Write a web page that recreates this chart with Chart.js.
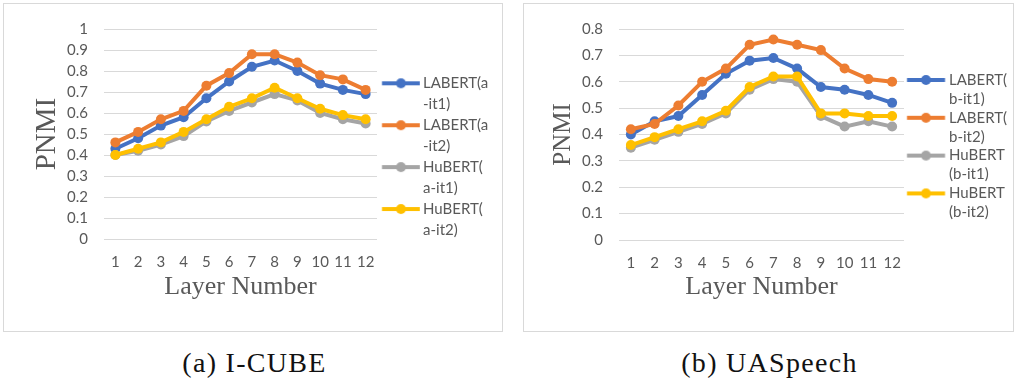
<!DOCTYPE html>
<html><head><meta charset="utf-8">
<script src="https://cdn.jsdelivr.net/npm/chart.js@4.4.1/dist/chart.umd.min.js"></script>
<style>
html,body{margin:0;padding:0;background:#fff;width:1014px;height:385px;overflow:hidden;}
.box{position:absolute;border:1px solid #d9d9d9;box-sizing:border-box;}
.box canvas{display:block;position:absolute;left:0;top:0;}
.cap{position:absolute;font-family:'Liberation Serif','Times New Roman',serif;font-size:28px;line-height:28px;letter-spacing:1.3px;text-align:center;color:#111;white-space:nowrap;}
</style></head><body>
<div class="box" style="left:3px;top:3px;width:500px;height:329px"><canvas id="c1" width="498" height="327"></canvas></div>
<div class="box" style="left:523px;top:3px;width:491px;height:329px"><canvas id="c2" width="500" height="327"></canvas></div>
<div class="cap" style="left:3px;top:349px;width:503px">(a) I-CUBE</div>
<div class="cap" style="left:523px;top:349px;width:493px">(b) UASpeech</div>
<script>
// ---- data ----
const layers = ['1','2','3','4','5','6','7','8','9','10','11','12'];

const icubeLabertIt1 = [0.43,0.48,0.54,0.58,0.67,0.75,0.82,0.85,0.80,0.74,0.71,0.69];
const icubeLabertIt2 = [0.46,0.51,0.57,0.61,0.73,0.79,0.88,0.88,0.84,0.78,0.76,0.71];
const icubeHubertIt1 = [0.40,0.42,0.45,0.49,0.56,0.61,0.65,0.69,0.66,0.60,0.57,0.55];
const icubeHubertIt2 = [0.40,0.43,0.46,0.51,0.57,0.63,0.67,0.72,0.67,0.62,0.59,0.57];
const icubeNames = ['LABERT(a-it1)','LABERT(a-it2)','HuBERT(a-it1)','HuBERT(a-it2)'];
const icubeLegend = [['LABERT(a','-it1)'],['LABERT(a','-it2)'],['HuBERT(','a-it1)'],['HuBERT(','a-it2)']];

const uaLabertIt1 = [0.40,0.45,0.47,0.55,0.63,0.68,0.69,0.65,0.58,0.57,0.55,0.52];
const uaLabertIt2 = [0.42,0.44,0.51,0.60,0.65,0.74,0.76,0.74,0.72,0.65,0.61,0.60];
const uaHubertIt1 = [0.35,0.38,0.41,0.44,0.48,0.57,0.61,0.60,0.47,0.43,0.45,0.43];
const uaHubertIt2 = [0.36,0.39,0.42,0.45,0.49,0.58,0.62,0.62,0.48,0.48,0.47,0.47];
const uaNames = ['LABERT(b-it1)','LABERT(b-it2)','HuBERT(b-it1)','HuBERT(b-it2)'];
const uaLegend = [['LABERT(','b-it1)'],['LABERT(','b-it2)'],['HuBERT','(b-it1)'],['HuBERT','(b-it2)']];

const yTitle = 'PNMI';
const xTitle = 'Layer Number';
const colors = ['#4472C4','#ED7D31','#A5A5A5','#FFC000'];
const FS = 15;

function markerImg(color, iw, x0, x1){
  const c = document.createElement('canvas'); c.width = iw; c.height = 12;
  const g = c.getContext('2d');
  g.strokeStyle = color; g.lineWidth = 4;
  g.beginPath(); g.moveTo(x0,6); g.lineTo(x1,6); g.stroke();
  g.fillStyle = color; g.beginPath(); g.arc((x0+x1)/2,6,5,0,Math.PI*2); g.fill();
  return c;
}

function widestText(lines){
  const g = document.createElement('canvas').getContext('2d');
  g.font = FS + 'px Lato';
  let w = 0;
  lines.forEach(l => { const s = l.reduce((a,b)=>a.length>b.length?a:b); w = Math.max(w, g.measureText(s).width); });
  return w;
}

function makeChart(id, series, names, legendLines, p){
  const imgs = colors.map(c => markerImg(c, p.iw, p.m0, p.m1));
  const canvas = document.getElementById(id);
  const legendW = p.W + FS/2 + widestText(legendLines) + 10;
  const padR = canvas.width - p.areaRight - legendW;
  return new Chart(canvas, {
    type:'line',
    data:{labels:layers, datasets: series.map((d,i)=>({
      label:names[i], data:d, borderColor:colors[i], backgroundColor:colors[i],
      pointBackgroundColor:colors[i], pointBorderColor:colors[i], pointBorderWidth:0,
      borderWidth:4, pointRadius:5, tension:0, order:4-i
    }))},
    options:{
      responsive:false, animation:false, devicePixelRatio:1,
      layout:{padding:{left:0, top:19, right:padR, bottom:0}},
      plugins:{
        tooltip:{enabled:false},
        legend:{
          position:'right', align:'start',
          title:{display:true, text:'', padding:{top:p.tpad, bottom:0}, font:{size:1, lineHeight:1}},
          labels:{
            usePointStyle:true, pointStyleWidth:p.W, padding:0, color:'#595959',
            font:{family:'Lato', size:FS, lineHeight:p.lh},
            sort:(a,b)=>a.datasetIndex-b.datasetIndex,
            generateLabels:(chart)=>{
              const items = Chart.defaults.plugins.legend.labels.generateLabels(chart);
              items.forEach(it=>{ it.text = legendLines[it.datasetIndex]; it.pointStyle = imgs[it.datasetIndex]; });
              return items;
            }
          }
        }
      },
      scales:{
        x:{
          offset:true,
          grid:{display:false, offset:true}, border:{display:false},
          ticks:{color:'#595959', font:{family:'Lato', size:FS}, padding:6.5, maxRotation:0, autoSkip:false},
          title:{display:true, text:xTitle, color:'#595959', font:{family:'Liberation Serif', size:26}, padding:{top:0, bottom:28}},
          afterFit:(s)=>{ s.height = p.xh; }
        },
        y:{
          min:0, max:p.ymax,
          ticks:{stepSize:0.1, color:'#595959', font:{family:'Lato', size:FS}, padding:16,
                 callback:(v)=>String(Number(v.toFixed(1)))},
          grid:{color:'#d9d9d9', drawTicks:false, lineWidth:1}, border:{display:false},
          title:{display:true, text:yTitle, color:'#595959', font:{family:'Liberation Serif', size:p.ys}, padding:{top:p.ypad, bottom:0}},
          afterFit:(s)=>{ s.width = p.yw; }
        }
      }
    }
  });
}

function draw(){
  makeChart('c1', [icubeLabertIt1, icubeLabertIt2, icubeHubertIt1, icubeHubertIt2], icubeNames, icubeLegend,
    {areaRight:373, tpad:51.8, W:38.5, iw:48, m0:9.75, m1:47.75, lh:1.397, xh:92, ymax:1, ys:29, ypad:25.8, yw:100});
  makeChart('c2', [uaLabertIt1, uaLabertIt2, uaHubertIt1, uaHubertIt2], uaNames, uaLegend,
    {areaRight:380, tpad:48.5, W:37.5, iw:46, m0:7.25, m1:45.25, lh:1.26, xh:91, ymax:0.8, ys:25, ypad:24.6, yw:95});
}
Promise.all([FS+'px Lato','26px "Liberation Serif"'].map(f=>document.fonts.load(f))).then(draw, draw);
</script>
</body></html>
